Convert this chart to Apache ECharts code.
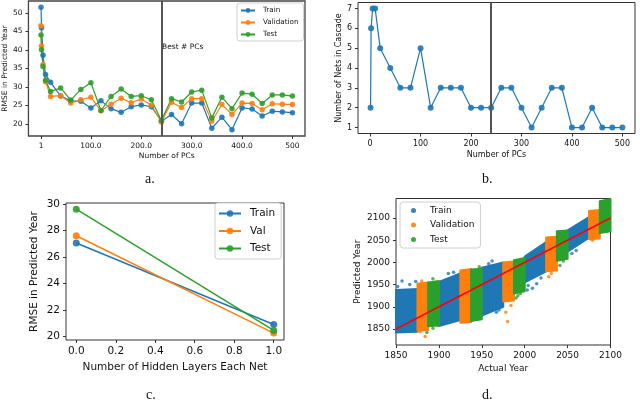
<!DOCTYPE html>
<html>
<head>
<meta charset="utf-8">
<script src="https://cdn.jsdelivr.net/npm/echarts@6/dist/echarts.min.js"></script>
<style>
html, body { margin: 0; padding: 0; background: #fff; }
#chart { width: 640px; height: 401px; }
</style>
</head>
<body>
<div id="chart"></div>
<script>
// --- panel a / b : sweep over number of PCs ---
const pcs = [1, 2, 5, 10, 20, 40, 60, 80, 100, 120, 140, 160, 180, 200, 220, 240, 260, 280, 300, 320, 340, 360, 380, 400, 420, 440, 460, 480, 500]
const rmseTrain = [51.5, 46.0, 38.5, 33.3, 31.2, 27.5, 26.2, 26.1, 24.3, 26.2, 24.1, 23.1, 24.6, 25.1, 24.6, 20.7, 22.5, 20.0, 25.6, 25.6, 18.8, 21.8, 18.4, 24.3, 24.0, 22.1, 23.4, 23.2, 23.0]
const rmseVal = [46.5, 41.0, 36.0, 31.4, 27.4, 27.6, 25.6, 26.5, 27.2, 23.5, 25.3, 26.9, 25.7, 26.7, 25.0, 20.5, 25.8, 24.4, 26.8, 26.8, 20.7, 25.2, 22.5, 25.6, 25.5, 23.8, 25.4, 25.3, 25.2]
const rmseTest = [44.0, 40.0, 35.5, 31.8, 28.7, 29.7, 26.4, 29.3, 31.1, 23.6, 27.4, 29.4, 27.4, 27.6, 26.5, 20.9, 26.8, 25.9, 28.6, 29.1, 21.6, 27.2, 24.1, 28.3, 28.0, 25.5, 27.8, 27.8, 27.5]
const netsInCascade = [2, 6, 7, 7, 5, 4, 3, 3, 5, 2, 3, 3, 3, 2, 2, 2, 3, 3, 2, 1, 2, 3, 3, 1, 1, 2, 1, 1, 1]
const bestPcs = 240
const pcTicksA = [1, 100, 200, 300, 400, 500]
const pcLabelsA = ['1', '100.0', '200.0', '300.0', '400.0', '500']
const pcTicksB = [0, 100, 200, 300, 400, 500]
const rmseTicksA = [20, 25, 30, 35, 40, 45, 50]
const netTicks = [1, 2, 3, 4, 5, 6, 7]

// --- panel c : hidden layers ---
const hiddenLayers = [0, 1]
const layerTrain = [27.05, 20.9]
const layerVal = [27.6, 20.25]
const layerTest = [29.6, 20.45]
const layerTicks = [0, 0.2, 0.4, 0.6, 0.8, 1.0]
const rmseTicksC = [20, 22, 24, 26, 28, 30]

// --- panel d : predicted vs actual year, point clouds read as bands ---
// split: 0 = train, 1 = validation, 2 = test
const bandSplit = [0, 1, 2, 0, 1, 2, 0, 1, 2, 0, 1, 2, 0, 1, 2]
const bandStart = [1850, 1875, 1887.5, 1900, 1925, 1937.5, 1950, 1975, 1987.5, 2000, 2025, 2037.5, 2050, 2075, 2087.5]
const bandEnd = [1875, 1887.5, 1900, 1925, 1937.5, 1950, 1975, 1987.5, 2000, 2025, 2037.5, 2050, 2075, 2087.5, 2100]
const bandLowStart = [1842, 1846, 1856, 1857, 1864, 1868, 1880, 1912, 1930, 1955, 1980, 2004, 2024, 2052, 2066]
const bandLowEnd = [1844, 1848, 1858, 1870, 1866, 1872, 1900, 1914, 1935, 1980, 1982, 2008, 2056, 2054, 2070]
const bandHighStart = [1938, 1952, 1955, 1956, 1982, 1984, 1988, 2000, 2005, 2013, 2056, 2070, 2072, 2116, 2138]
const bandHighEnd = [1940, 1955, 1958, 1975, 1985, 1986, 2000, 2002, 2010, 2046, 2058, 2072, 2102, 2118, 2143]
const trainOutliers = [[1857, 1958], [1866, 1950], [1873, 1957], [1852, 1946], [1911, 1975], [1917, 1978], [1962, 2003], [1958, 1997], [1970, 1893], [1967, 1888], [2004, 1948], [2009, 1942], [2014, 1952], [2019, 1965], [2003, 1938], [2055, 2020], [2060, 2027]]
const valOutliers = [[1884, 1833], [1880, 1958], [1878, 1844], [1978, 1888], [1980, 1867], [1984, 1903], [2028, 1968], [2031, 1975], [2079, 2050]]
const testOutliers = [[1893, 1963], [1886, 1842], [1893, 1852], [1990, 1920], [1995, 1930], [1992, 1925], [2041, 1993], [2045, 2003], [2098, 2077], [1947, 1990]]
const idealLine = [[1850, 1850], [2100, 2100]]
const yearTicks = [1850, 1900, 1950, 2000, 2050, 2100]

const BLUE = '#1f77b4'
const ORANGE = '#ff7f0e'
const GREEN = '#2ca02c'
const FONT = 'DejaVu Sans'
const SPLIT_COLORS = [BLUE, ORANGE, GREEN]

const chart = echarts.init(document.getElementById('chart'))

// matplotlib-ish axis
const makeAxis = (gridIndex, min, max, ticks, fontSize, name, nameGap, formatter) => ({
  gridIndex,
  type: 'value',
  min,
  max,
  name,
  nameLocation: 'middle',
  nameGap,
  nameTextStyle: { fontFamily: FONT, fontSize, color: '#111' },
  axisLine: { show: false, onZero: false },
  splitLine: { show: false },
  axisTick: { customValues: ticks, length: 3, lineStyle: { color: '#333' } },
  axisLabel: {
    customValues: ticks,
    formatter: formatter || (v => String(v)),
    fontFamily: FONT,
    fontSize,
    color: '#111',
    margin: 6
  }
})

const lineSeries = (name, xs, ys, color, axisIdx, size, width) => ({
  name,
  type: 'line',
  xAxisIndex: axisIdx,
  yAxisIndex: axisIdx,
  data: xs.map((x, i) => [x, ys[i]]),
  symbol: 'circle',
  symbolSize: size,
  color,
  lineStyle: { width, color },
  itemStyle: { color, opacity: 0.9 },
  animation: false
})

const bandSeries = (split, name) => ({
  name,
  type: 'custom',
  xAxisIndex: 3,
  yAxisIndex: 3,
  color: SPLIT_COLORS[split],
  itemStyle: { color: SPLIT_COLORS[split] },
  data: bandSplit
    .map((s, i) => (s === split ? [bandStart[i], bandEnd[i], bandLowStart[i], bandLowEnd[i], bandHighStart[i], bandHighEnd[i]] : null))
    .filter(d => d),
  encode: { x: [0, 1], y: [2, 3, 4, 5] },
  renderItem: (params, api) => {
    const x0 = api.value(0)
    const x1 = api.value(1)
    const pts = [
      api.coord([x0, api.value(2)]),
      api.coord([x1, api.value(3)]),
      api.coord([x1, api.value(5)]),
      api.coord([x0, api.value(4)])
    ]
    return {
      type: 'polygon',
      shape: { points: pts },
      style: { fill: SPLIT_COLORS[split], stroke: SPLIT_COLORS[split], lineWidth: 2, lineJoin: 'round' }
    }
  },
  animation: false
})

const outlierSeries = (name, pts, color) => ({
  name,
  type: 'scatter',
  xAxisIndex: 3,
  yAxisIndex: 3,
  data: pts,
  symbolSize: 3.5,
  color,
  itemStyle: { color },
  animation: false
})

const legendBox = {
  orient: 'vertical',
  backgroundColor: '#fff',
  borderColor: '#d0d0d0',
  borderWidth: 1,
  borderRadius: 3
}

const option = {
  animation: false,
  grid: [
    { left: 25, top: 1, width: 280, height: 135, show: true, borderColor: '#444', borderWidth: 1.3, backgroundColor: 'transparent' },
    { left: 358, top: 2.5, width: 277, height: 131, show: true, borderColor: '#333', borderWidth: 1, backgroundColor: 'transparent' },
    { left: 66, top: 203, width: 218, height: 137, show: true, borderColor: '#333', borderWidth: 1, backgroundColor: 'transparent' },
    { left: 396, top: 198.5, width: 214.5, height: 146.5, show: true, borderColor: '#333', borderWidth: 1, backgroundColor: 'transparent' }
  ],
  xAxis: [
    makeAxis(0, -23.95, 524.95, pcTicksA, 7.5, 'Number of PCs', 16, v => pcLabelsA[pcTicksA.indexOf(v)]),
    makeAxis(1, -23.95, 524.95, pcTicksB, 8, 'Number of PCs', 17),
    makeAxis(2, -0.052, 1.052, layerTicks, 10.5, 'Number of Hidden Layers Each Net', 22, v => v.toFixed(1)),
    makeAxis(3, 1850, 2100, yearTicks, 9, 'Actual Year', 19)
  ],
  yAxis: [
    makeAxis(0, 16.7, 53.2, rmseTicksA, 7.5, 'RMSE in Predicted Year', 18),
    makeAxis(1, 0.7, 7.3, netTicks, 8, 'Number of Nets in Cascade', 13),
    makeAxis(2, 19.73, 30.07, rmseTicksC, 10.5, 'RMSE in Predicted Year', 26),
    makeAxis(3, 1814, 2144, yearTicks, 9, 'Predicted Year', 34)
  ],
  legend: [
    Object.assign({}, legendBox, {
      left: 237, top: 3,
      padding: [4, 5, 3, 3],
      itemWidth: 14, itemHeight: 6, itemGap: 5,
      textStyle: { fontFamily: FONT, fontSize: 7.2, color: '#111', padding: [0, 0, 0, 3] },
      data: ['Train', 'Validation', 'Test']
    }),
    Object.assign({}, legendBox, {
      left: 215, top: 203,
      padding: [5, 6, 5, 3],
      itemWidth: 22, itemHeight: 8, itemGap: 6.5,
      textStyle: { fontFamily: FONT, fontSize: 10.5, color: '#111', padding: [0, 0, 0, 4] },
      data: ['Train', 'Val', 'Test']
    }),
    Object.assign({}, legendBox, {
      left: 400, top: 202,
      padding: [4, 6, 4, 11],
      itemWidth: 5, itemHeight: 5, itemGap: 5.5,
      textStyle: { fontFamily: FONT, fontSize: 9, color: '#111', padding: [0, 0, 0, 9] },
      data: [
        { name: 'Train', icon: 'circle' },
        { name: 'Validation', icon: 'circle' },
        { name: 'Test', icon: 'circle' }
      ]
    })
  ],
  series: [
    lineSeries('Train', pcs, rmseTrain, BLUE, 0, 5.5, 1.2),
    lineSeries('Validation', pcs, rmseVal, ORANGE, 0, 5.5, 1.2),
    Object.assign(lineSeries('Test', pcs, rmseTest, GREEN, 0, 5.5, 1.2), {
      markLine: {
        silent: true,
        symbol: 'none',
        label: { show: false },
        lineStyle: { color: '#555', width: 2, type: 'solid' },
        data: [{ xAxis: bestPcs }]
      }
    }),
    Object.assign(lineSeries('Nets', pcs, netsInCascade, BLUE, 1, 6, 1.2), {
      markLine: {
        silent: true,
        symbol: 'none',
        label: { show: false },
        lineStyle: { color: '#555', width: 2, type: 'solid' },
        data: [{ xAxis: bestPcs }]
      }
    }),
    lineSeries('Train', hiddenLayers, layerTrain, BLUE, 2, 7, 1.5),
    lineSeries('Val', hiddenLayers, layerVal, ORANGE, 2, 7, 1.5),
    lineSeries('Test', hiddenLayers, layerTest, GREEN, 2, 7, 1.5),
    bandSeries(0, 'Train'),
    bandSeries(1, 'Validation'),
    bandSeries(2, 'Test'),
    outlierSeries('Train', trainOutliers, BLUE),
    outlierSeries('Validation', valOutliers, ORANGE),
    outlierSeries('Test', testOutliers, GREEN),
    {
      name: 'ideal',
      type: 'line',
      xAxisIndex: 3,
      yAxisIndex: 3,
      data: idealLine,
      symbol: 'none',
      lineStyle: { color: '#ff0000', width: 1.5 },
      z: 5,
      animation: false
    }
  ],
  graphic: [
    { type: 'text', left: 162, top: 43, style: { text: 'Best # PCs', fontFamily: FONT, fontSize: 7.5, fill: '#111' } },
    { type: 'text', left: 145, top: 172, style: { text: 'a.', fontFamily: 'Liberation Serif', fontSize: 14, fill: '#111' } },
    { type: 'text', left: 482, top: 172, style: { text: 'b.', fontFamily: 'Liberation Serif', fontSize: 14, fill: '#111' } },
    { type: 'text', left: 146, top: 388, style: { text: 'c.', fontFamily: 'Liberation Serif', fontSize: 14, fill: '#111' } },
    { type: 'text', left: 482, top: 388, style: { text: 'd.', fontFamily: 'Liberation Serif', fontSize: 14, fill: '#111' } }
  ]
}

chart.setOption(option)
</script>
</body>
</html>
